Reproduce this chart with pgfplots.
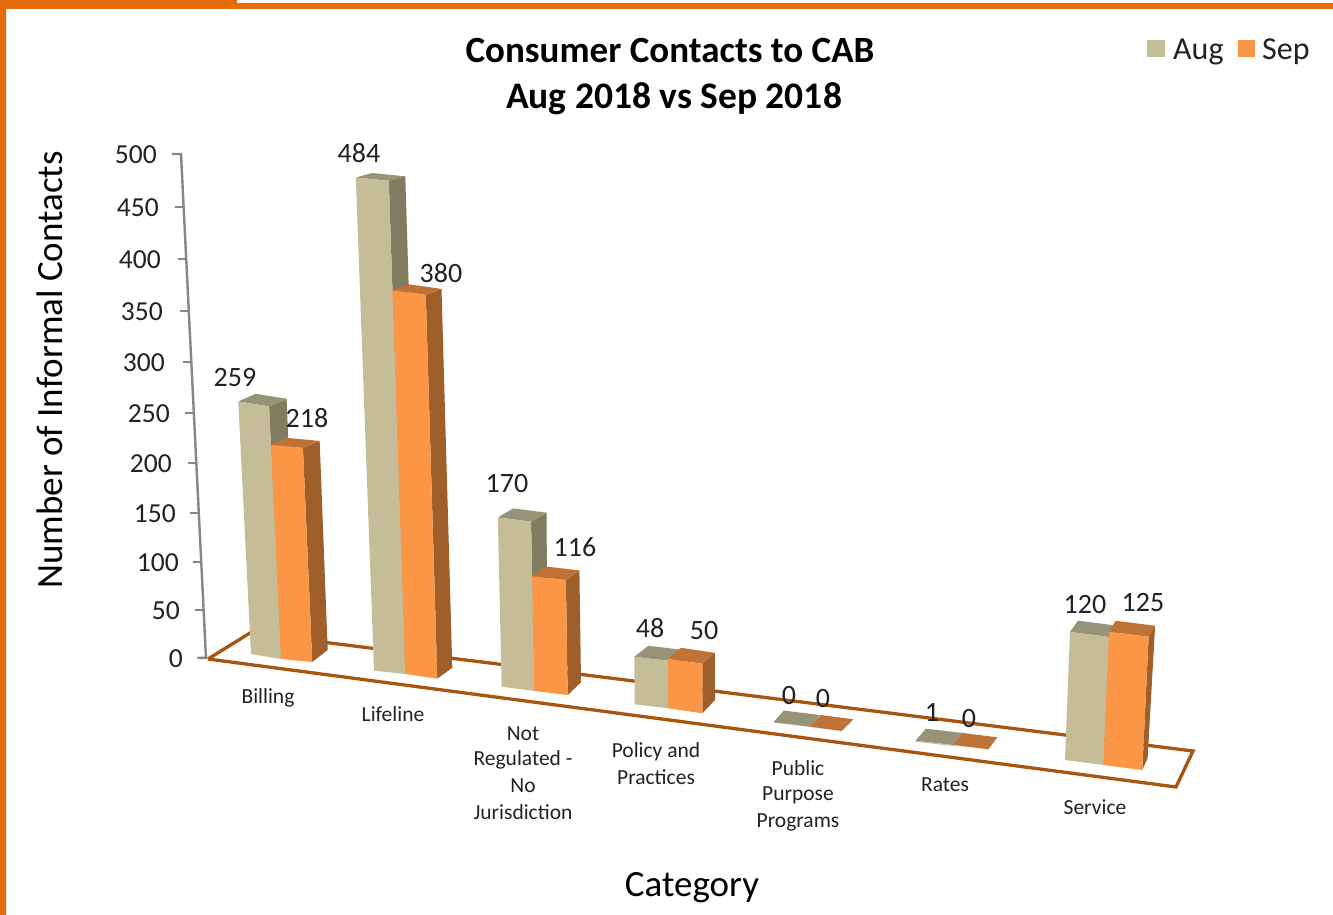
\documentclass[border=0pt]{standalone}
\usepackage{pgfplots}
\usepackage{pgfplotstable}
\usepackage{fontspec}
\setmainfont{Carlito}
\pgfplotsset{compat=1.18}
\definecolor{augfront}{HTML}{C4BD97}
\definecolor{augtop}{HTML}{979379}
\definecolor{augside}{HTML}{807C60}
\definecolor{sepfront}{HTML}{FA9646}
\definecolor{septop}{HTML}{BF7236}
\definecolor{sepside}{HTML}{9E5F2A}
\definecolor{border}{HTML}{E46C0A}
\definecolor{floorc}{HTML}{A85510}
\definecolor{axisc}{HTML}{868686}
\definecolor{txt}{HTML}{222222}
% value, px per unit, front base corners, depth at base, depth at top (rows: Aug, Sep per category)
\pgfplotstableread{
value sc x0 y0 x1 y1 bdx bdy tdx tdy
259 0.975 251 654 281 659 15.4 -12 17.5 -7.7
218 0.982 281 659 312.3 662 15.4 -12 16.7 -7
484 1.019 374 670.7 405.3 674 15 -11 16.5 -4.5
380 1.01 405.3 674 437.3 678.7 15 -11 15.7 -6
170 0.996 501.7 686.7 534.3 691 13.3 -12.7 15.5 -9
116 0.99 534.3 691 567.7 695 13.3 -12.7 13.5 -9.7
48 0.99 634.7 704.3 668.3 708.3 12.7 -13.3 14 -11
50 0.99 668.3 708.3 702.3 713.3 12.7 -13.3 12.7 -11
0 1 773.3 722.3 809.3 726.7 11 -11.7 10.5 -11.7
0 1 809.3 726.7 841.7 731 11.6 -11.7 11.6 -11.7
1 1 915.7 741.7 953.3 746 10 -12 10 -12
0 1 953.3 745 988.3 749.3 9 -12 9 -12
120 1.067 1065 760 1103.3 765 5.3 -11.7 8 -11.3
125 1.066 1103.3 765 1142.3 770 5.3 -11.7 6.5 -11
}\bars
\newcommand{\getv}[2]{\pgfplotstablegetelem{\r}{#1}\of\bars\let#2\pgfplotsretval}
\newcommand{\fs}[1]{\fontsize{#1}{#1}\selectfont}
\begin{document}
\begin{tikzpicture}
\begin{axis}[
  scale only axis, width=1333pt, height=915pt,
  xmin=0, xmax=1333, ymin=0, ymax=915, y dir=reverse,
  hide axis, no markers,
  every axis plot/.append style={forget plot},
]
% background and border
\addplot[fill=white,draw=none] coordinates {(0,0)(1333,0)(1333,915)(0,915)};
\addplot[fill=border,draw=none] coordinates {(0,0)(237,0)(237,3)(1333,3)(1333,9)(6,9)(6,915)(0,915)};
% floor
\addplot[fill=white,draw=floorc,line width=3.3pt,line join=miter] coordinates {(208,659)(1176,787)(1193,751)(250,633)(208,659)};
% value axis
\addplot[draw=axisc,line width=2.4pt] coordinates {(172,154)(181,154)(206,658)(197.5,657.7)};
\addplot[draw=axisc,line width=2.4pt] coordinates {(175,206.7)(183.6,206.7)};
\addplot[draw=axisc,line width=2.4pt] coordinates {(177.7,259)(186.2,259)};
\addplot[draw=axisc,line width=2.4pt] coordinates {(180.3,310.7)(188.8,310.7)};
\addplot[draw=axisc,line width=2.4pt] coordinates {(182.8,361.7)(191.3,361.7)};
\addplot[draw=axisc,line width=2.4pt] coordinates {(185.3,413)(193.8,413)};
\addplot[draw=axisc,line width=2.4pt] coordinates {(187.8,462.7)(196.3,462.7)};
\addplot[draw=axisc,line width=2.4pt] coordinates {(190.3,512.7)(198.8,512.7)};
\addplot[draw=axisc,line width=2.4pt] coordinates {(192.7,561.7)(201.2,561.7)};
\addplot[draw=axisc,line width=2.4pt] coordinates {(195.1,610)(203.6,610)};
% bars
\pgfplotsforeachungrouped \r in {0,...,13}{%
  \getv{value}\vv \getv{sc}\scl \getv{x0}\xa \getv{y0}\ya \getv{x1}\xb \getv{y1}\yb
  \getv{bdx}\bdx \getv{bdy}\bdy \getv{tdx}\tdx \getv{tdy}\tdy
  \pgfmathsetmacro\hh{\vv*\scl}
  \pgfmathsetmacro\txa{\xa-\hh*((710-\xa)/9100)}
  \pgfmathsetmacro\txb{\xb-\hh*((710-\xb)/9100)}
  \pgfmathsetmacro\tya{\ya-\hh}
  \pgfmathsetmacro\tyb{\yb-\hh}
  \pgfmathsetmacro\bkxb{\xb+\bdx}
  \pgfmathsetmacro\bkyb{\yb+\bdy}
  \pgfmathsetmacro\tkxa{\txa+\tdx}
  \pgfmathsetmacro\tkya{\tya+\tdy}
  \pgfmathsetmacro\tkxb{\txb+\tdx}
  \pgfmathsetmacro\tkyb{\tyb+\tdy}
  \ifodd\r\def\ff{sepfront}\def\ft{septop}\def\fd{sepside}%
  \else\def\ff{augfront}\def\ft{augtop}\def\fd{augside}\fi
  \edef\doit{%
    \noexpand\addplot[fill=\fd,draw=none] coordinates {(\txb,\tyb)(\xb,\yb)(\bkxb,\bkyb)(\tkxb,\tkyb)};
    \noexpand\addplot[fill=\ft,draw=none] coordinates {(\txa,\tya)(\txb,\tyb)(\tkxb,\tkyb)(\tkxa,\tkya)};
    \noexpand\addplot[fill=\ff,draw=none] coordinates {(\xa,\ya)(\xb,\yb)(\txb,\tyb)(\txa,\tya)};
  }\doit
}
% legend keys
\addplot[fill=augfront,draw=none] coordinates {(1147,40)(1165,40)(1165,57)(1147,57)};
\addplot[fill=sepfront,draw=none] coordinates {(1238,40)(1255,40)(1255,57)(1238,57)};

% text
\node[font=\fs{37}\bfseries,black,inner sep=0pt] at (axis cs:670,51) {Consumer Contacts to CAB};
\node[font=\fs{37.5}\bfseries,black,inner sep=0pt] at (axis cs:674,98.5) {Aug 2018 vs Sep 2018};
\node[font=\fs{32},txt,anchor=west,inner sep=0pt] at (axis cs:1173,51.5) {Aug};
\node[font=\fs{32},txt,anchor=west,inner sep=0pt] at (axis cs:1262,51.5) {Sep};
\node[font=\fs{37},black,rotate=90,inner sep=0pt] at (axis cs:50,370) {Number of Informal Contacts};
\node[font=\fs{37},black,inner sep=0pt] at (axis cs:692,888) {Category};
% value-axis labels
\foreach \yy/\xx/\lbl in {155/157/500,208/159/450,260/161/400,312/163/350,363/165/300,414/170/250,464/172/200,514/176/150,563/179/100,611/180/50,659/183/0}{
  \edef\doit{\noexpand\node[font=\noexpand\fs{27.5},txt,anchor=east,inner sep=0pt] at (axis cs:\xx,\yy) {\lbl};}\doit
}
% data labels
\foreach \xx/\yy/\lbl in {235/378/259,307/418/218,359/153/484,441/273/380,507/484/170,575/547/116,650/628/48,704/631/50,789/696/0,823/699/0,932/712/1,969/719/0,1085/605/120,1143/603/125}{
  \edef\doit{\noexpand\node[font=\noexpand\fs{28},txt,inner sep=0pt] at (axis cs:\xx,\yy) {\lbl};}\doit
}
% category labels
\foreach \xx/\yy/\lbl in {268/698/Billing,393/714/Lifeline,523/734/Not,523/760/Regulated -,523/786/No,523/812/Jurisdiction,656/752/Policy and,656/777/Practices,798/768/Public,798/795/Purpose,798/822/Programs,945/785/Rates,1095/807/Service}{
  \edef\doit{\noexpand\node[font=\noexpand\fs{21.5},txt,inner sep=0pt] at (axis cs:\xx,\yy) {\lbl};}\doit
}
\end{axis}
\end{tikzpicture}
\end{document}
